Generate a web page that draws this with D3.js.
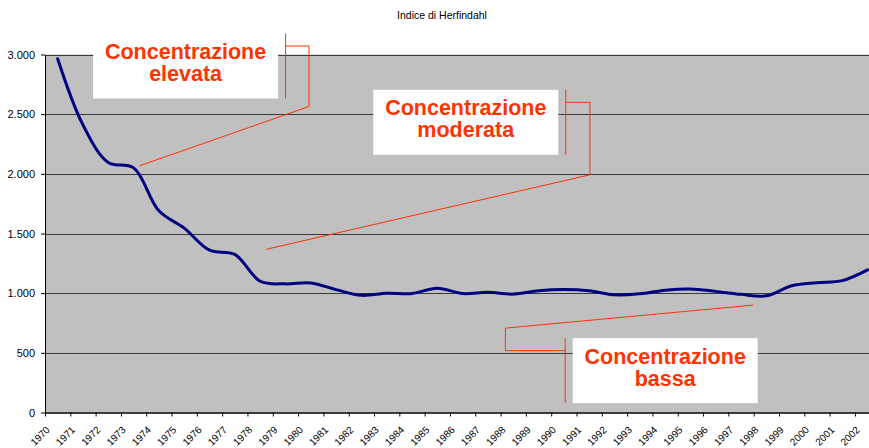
<!DOCTYPE html>
<html>
<head>
<meta charset="utf-8">
<script src="https://cdn.jsdelivr.net/npm/d3@7"></script>
<style>
  html, body { margin: 0; padding: 0; background: #fff; }
  svg { display: block; }
</style>
</head>
<body>
<div id="chart"></div>
<script>
// Indice di Herfindahl, 1970-2002
// Smoothed navy line over a grey plot area, with three red callouts.

const years  = d3.range(1970, 2003);
const values = [
  2965, 2410, 2095, 2050, 1690, 1545, 1360, 1325, 1100, 1078,
  1085, 1030,  982, 1000,  997, 1042,  997, 1008,  992, 1020,
  1030, 1020,  986,  995, 1025, 1035, 1015,  990,  978, 1062,
  1088, 1105, 1195
];
const yTicks = [0, 500, 1000, 1500, 2000, 2500, 3000];

// callouts: box top-left, elbow end and pointer tip, all in data units
const calloutLabels = [
  ["Concentrazione", "elevata"],
  ["Concentrazione", "moderata"],
  ["Concentrazione", "bassa"]
];
const calloutBox   = [[1971.90, 3176], [1982.97, 2704], [1990.85, 623]];
const calloutElbow = [[1980.43, 2564], [1991.53, 1992], [1988.19, 707]];
const calloutTip   = [[1973.73, 2067], [1978.75, 1368], [1997.98, 900]];
const calloutSide  = ["right", "right", "left"];

const W = 869, H = 448;
const m = { top: 54.5, left: 45, bottom: 35.5 };
const ih = H - m.top - m.bottom;
const step = 25.31;

const RED  = "#ff3300";
const FONT = "'Liberation Sans', Arial, sans-serif";

const x = d3.scaleLinear().domain([1970, 2003]).range([m.left, m.left + 33 * step]);
const y = d3.scaleLinear().domain([0, 3000]).range([m.top + ih, m.top]);

const fmt = d3.formatLocale({ decimal: ",", thousands: ".", grouping: [3], currency: ["", "€"] }).format(",");

const svg = d3.select("#chart").append("svg")
  .attr("width", W).attr("height", H)
  .attr("viewBox", `0 0 ${W} ${H}`);

// title
svg.append("text")
  .attr("x", 442).attr("y", 19)
  .attr("text-anchor", "middle")
  .attr("font-family", FONT)
  .attr("font-size", "10.5px")
  .attr("fill", "#000")
  .text("Indice di Herfindahl");

// plot area
svg.append("rect")
  .attr("x", x(1970)).attr("y", y(3000))
  .attr("width", x(2003) - x(1970)).attr("height", y(0) - y(3000))
  .attr("fill", "#c0c0c0");

// gridlines
yTicks.filter(t => t > 0).forEach(t => {
  svg.append("line")
    .attr("x1", x(1970)).attr("x2", x(2003))
    .attr("y1", Math.round(y(t)) + 0.5).attr("y2", Math.round(y(t)) + 0.5)
    .attr("stroke", "#3a3a3a")
    .attr("stroke-width", 1.2);
});

// y axis
const yAxisG = svg.append("g")
  .attr("transform", `translate(${m.left},0)`)
  .call(d3.axisLeft(y).tickValues(yTicks).tickFormat(fmt).tickSize(4).tickPadding(6).tickSizeOuter(0));
yAxisG.select(".domain").attr("stroke", "#000");
yAxisG.selectAll(".tick line").attr("stroke", "#000");
yAxisG.selectAll("text")
  .attr("font-family", FONT).attr("font-size", "11px").attr("fill", "#000");

// x axis - labels rotated 45 degrees, ending just right of each tick
const xAxisG = svg.append("g")
  .attr("transform", `translate(0,${y(0)})`)
  .call(d3.axisBottom(x).tickValues(d3.range(1970, 2004)).tickFormat(d => d < 2003 ? d : "")
    .tickSize(4).tickSizeOuter(0));
xAxisG.select(".domain").attr("stroke", "#000").attr("stroke-width", 1.5);
xAxisG.selectAll(".tick line").attr("stroke", "#000");
xAxisG.selectAll("text")
  .attr("font-family", FONT).attr("font-size", "10px").attr("fill", "#000")
  .attr("x", 0).attr("y", 0).attr("dy", 0)
  .attr("text-anchor", "end")
  .attr("transform", "translate(5,18) rotate(-45)");

// series
const line = d3.line()
  .x((d, i) => x(years[i] + 0.5))
  .y(d => y(d))
  .curve(d3.curveCatmullRom.alpha(0.5));

svg.append("path")
  .datum(values)
  .attr("d", line)
  .attr("fill", "none")
  .attr("stroke", "#000080")
  .attr("stroke-width", 3)
  .attr("stroke-linejoin", "round")
  .attr("stroke-linecap", "round");

// callouts
const boxW = 185, boxH = 65;
calloutLabels.forEach((lines, i) => {
  const bx = x(calloutBox[i][0]), by = y(calloutBox[i][1]);
  const ex = x(calloutElbow[i][0]), ey = y(calloutElbow[i][1]);
  const tx = x(calloutTip[i][0]), ty = y(calloutTip[i][1]);
  const barX = calloutSide[i] === "right" ? bx + boxW + 7.5 : bx - 7.5;
  const hy = by + 12.5;

  const g = svg.append("g");

  g.append("rect")
    .attr("x", bx).attr("y", by)
    .attr("width", boxW).attr("height", boxH)
    .attr("fill", "#fff");

  g.append("path")
    .attr("d", `M${barX},${by}V${by + boxH}M${barX},${hy}H${ex}V${ey}L${tx},${ty}`)
    .attr("fill", "none")
    .attr("stroke", RED)
    .attr("stroke-width", 1);

  lines.forEach((t, j) => {
    g.append("text")
      .attr("x", bx + boxW / 2)
      .attr("y", by + 25.5 + j * 22)
      .attr("text-anchor", "middle")
      .attr("font-family", FONT)
      .attr("font-weight", "bold")
      .attr("font-size", "21.5px")
      .attr("fill", RED)
      .text(t);
  });
});
</script>
</body>
</html>
